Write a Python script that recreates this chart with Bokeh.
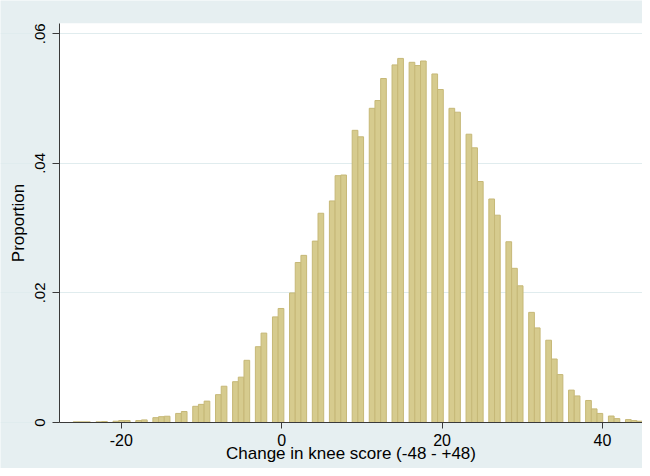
import numpy as np
from bokeh.plotting import figure
from bokeh.models import ColumnDataSource, FixedTicker, Range1d, CustomJSTickFormatter, BoxAnnotation
from bokeh.embed import file_html
from bokeh.resources import INLINE

# ---- data ----
scores = list(range(-26, 46))  # integer change in knee score
proportion = [
    0.0001, 0.0001, 0.0001, 0.0001, 0.00015, 0.0002, 0.0003, 0.0003, 0.0003, 0.0004,   # -26..-17
    0.00075, 0.0009, 0.00097, 0.0014, 0.0017, 0.0025, 0.0028, 0.0033, 0.0043, 0.0056,  # -16..-7
    0.0063, 0.0070, 0.0096, 0.0117, 0.0138, 0.0163,                                    # -6..-1
    0.0176, 0.0200, 0.0247, 0.0258, 0.0280, 0.0323, 0.0342, 0.0381, 0.0382, 0.0451,    # 0..9
    0.0441, 0.0485, 0.0497, 0.0531, 0.0552, 0.0562, 0.0556, 0.0551, 0.0558, 0.0538,    # 10..19
    0.0514, 0.0485, 0.0479, 0.0445, 0.0424, 0.0372, 0.0345, 0.0320, 0.0279, 0.0238,    # 20..29
    0.0211, 0.0170, 0.0146, 0.0127, 0.0098, 0.0074, 0.0050, 0.0041, 0.0034, 0.0021,    # 30..39
    0.0014, 0.0010, 0.0006, 0.00045, 0.0003, 0.0002,                                   # 40..45
]
n_bins = 100
x_ticks = [-20, 0, 20, 40]
y_ticks = [0, 0.02, 0.04, 0.06]
x_title = "Change in knee score (-48 - +48)"
y_title = "Proportion"

# ---- histogram bins (Stata-style: start at min, equal width) ----
lo, hi = min(scores), max(scores)
bw = (hi - lo) / n_bins
idx = [min((s - lo) * n_bins // (hi - lo), n_bins - 1) for s in scores]
left = [lo + i * bw for i in idx]
right = [l + bw for l in left]
src = ColumnDataSource(dict(left=left, right=right, top=proportion, bottom=[0] * len(left)))

BG = "#E6EFF1"
FONT = "Liberation Sans"
W, H = 642, 468

# visible range of the whole canvas; plot region is a sub-box of it
X0, X1 = -35.06, 44.99
Y0, Y1 = -0.0071, 0.06514
PX0, PY1 = -27.67, 0.06164      # left edge / top edge of the white plot region

p = figure(width=W, height=H, output_backend="svg", toolbar_location=None, title=None,
           x_range=Range1d(X0, X1), y_range=Range1d(Y0, Y1))
p.min_border_left = 0
p.min_border_right = 0
p.min_border_top = 0
p.min_border_bottom = 0
p.background_fill_color = BG
p.border_fill_color = "white"
p.outline_line_color = None

# graph region (light bluish grey) and white plot region
p.add_layout(BoxAnnotation(left=8, right=W + 10, top=12, bottom=H + 10,
                           left_units="canvas", right_units="canvas",
                           top_units="canvas", bottom_units="canvas",
                           fill_color=BG, fill_alpha=1.0, line_color=None, level="image"))
p.add_layout(BoxAnnotation(left=PX0, right=X1 + 10, bottom=0, top=PY1,
                           fill_color="white", fill_alpha=1.0, line_color=None, level="image"))

p.quad(left="left", right="right", top="top", bottom="bottom", source=src,
       fill_color="#D6CB8E", line_color="#C6B877", line_width=1)

p.xgrid.grid_line_color = None
p.ygrid.grid_line_color = "#E0ECEE"
p.ygrid.grid_line_width = 1
p.ygrid.bounds = (PX0, X1 + 10)

p.xaxis.ticker = FixedTicker(ticks=x_ticks)
p.yaxis.ticker = FixedTicker(ticks=y_ticks)
p.xaxis.formatter = CustomJSTickFormatter(code="return String(tick);")
p.yaxis.formatter = CustomJSTickFormatter(code="""
    if (tick == 0) return "0";
    return tick.toFixed(2).replace(/^0/, "");
""")
p.xaxis.fixed_location = 0
p.yaxis.fixed_location = PX0
p.xaxis.bounds = (PX0, X1 + 10)
p.yaxis.bounds = (0, PY1)

for ax in (p.xaxis[0], p.yaxis[0]):
    ax.axis_line_color = "#3a3a3a"
    ax.major_tick_line_color = "#3a3a3a"
    ax.minor_tick_line_color = None
    ax.major_tick_in = 0
    ax.major_tick_out = 7
    ax.major_label_text_font = FONT
    ax.major_label_text_color = "black"
    ax.axis_label_text_font = FONT
    ax.axis_label_text_color = "black"
    ax.axis_label_text_font_style = "normal"

p.xaxis.axis_label = x_title
p.yaxis.axis_label = y_title
p.xaxis.major_label_text_font_size = "16px"
p.yaxis.major_label_text_font_size = "15px"
p.xaxis.axis_label_text_font_size = "17px"
p.yaxis.axis_label_text_font_size = "17px"
p.yaxis.major_label_orientation = "vertical"
p.xaxis.major_tick_out = 6
p.xaxis.major_label_standoff = 5
p.yaxis.major_label_standoff = 8
p.xaxis.axis_label_standoff = -5
p.yaxis.axis_label_standoff = 4

open("out.html", "w").write(file_html(p, INLINE))
